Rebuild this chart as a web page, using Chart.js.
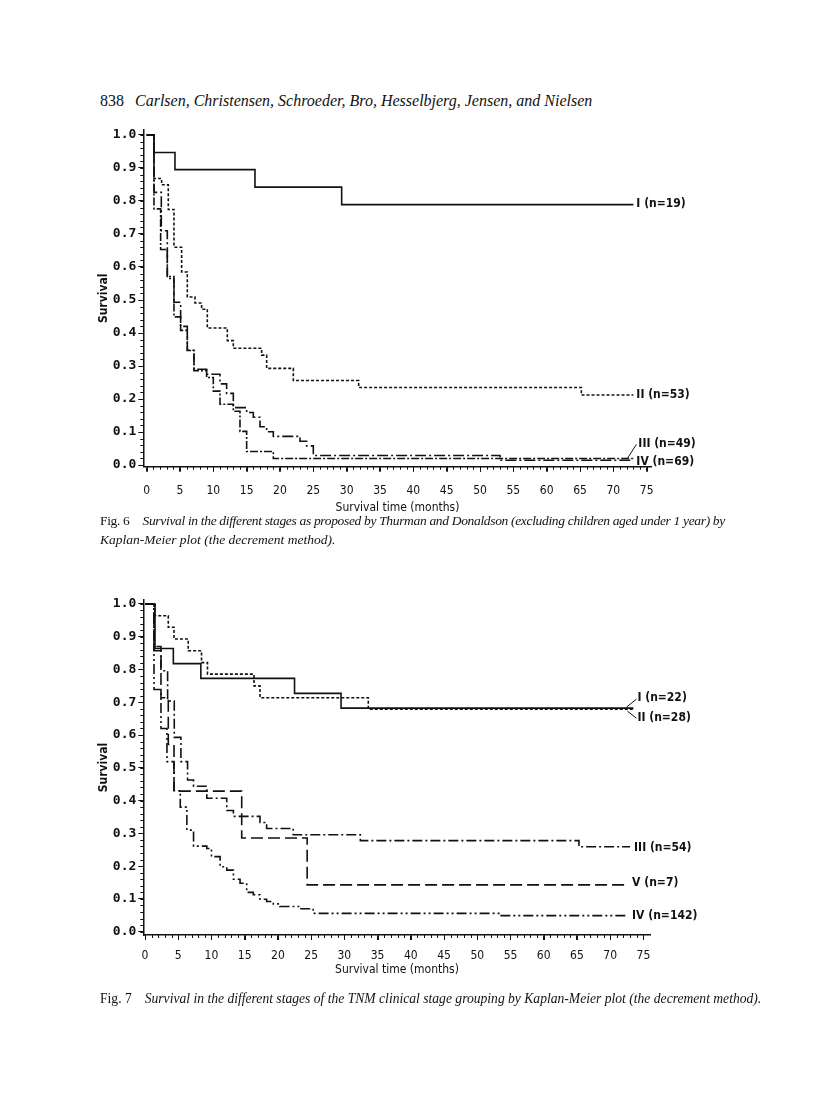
<!DOCTYPE html>
<html>
<head>
<meta charset="utf-8">
<script src="https://cdn.jsdelivr.net/npm/chart.js@4.4.0/dist/chart.umd.min.js"></script>
<style>
  html, body { margin: 0; padding: 0; background: #fff; }
  body { width: 816px; height: 1114px; position: relative; overflow: hidden; }
  .abs { position: absolute; white-space: nowrap; color: #111; font-family: 'Liberation Serif', 'Times New Roman', serif; }
  .hdr { left: 100px; top: 92px; font-size: 16px; }
  .hdr i { margin-left: 11px; }
  .cap { left: 100px; font-size: 13.5px; }
  .cap i { margin-left: 13px; }
  canvas { position: absolute; left: 0; }
</style>
</head>
<body>
<div class="abs hdr">838<i>Carlsen, Christensen, Schroeder, Bro, Hesselbjerg, Jensen, and Nielsen</i></div>
<div style="position:absolute;left:0;top:115px;width:816px;height:410px;"><canvas id="fig6"></canvas></div>
<div class="abs cap" style="top:513px;letter-spacing:-0.33px;">Fig. 6<i>Survival in the different stages as proposed by Thurman and Donaldson (excluding children aged under 1 year) by</i></div>
<div class="abs cap" style="top:532px;"><i style="margin-left:0">Kaplan-Meier plot (the decrement method).</i></div>
<div style="position:absolute;left:0;top:585px;width:816px;height:410px;"><canvas id="fig7"></canvas></div>
<div class="abs cap" style="top:991px;font-size:13.6px;">Fig. 7<i>Survival in the different stages of the TNM clinical stage grouping by Kaplan-Meier plot (the decrement method).</i></div>

<script>
// ---------- DATA ----------
const xTickValues = [0, 5, 10, 15, 20, 25, 30, 35, 40, 45, 50, 55, 60, 65, 70, 75];
const yTickValues = [0, 0.1, 0.2, 0.3, 0.4, 0.5, 0.6, 0.7, 0.8, 0.9, 1.0];
const xTitle = 'Survival time (months)';
const yTitle = 'Survival';

// Fig. 6 (Thurman & Donaldson stages)
const fig6_I_time   = [0, 1.1, 4.25, 16.25, 29.25, 73];
const fig6_I_surv   = [1, 0.947, 0.895, 0.842, 0.789, 0.789];
const fig6_II_time  = [0, 1.1, 2.25, 3.25, 4.1, 5.25, 6.1, 7.25, 8.25, 9.1, 12.1, 13.0, 17.25, 18.0, 22.0, 31.8, 65.2, 73];
const fig6_II_surv  = [1, 0.868, 0.849, 0.774, 0.660, 0.585, 0.509, 0.491, 0.472, 0.415, 0.377, 0.354, 0.333, 0.293, 0.256, 0.235, 0.212, 0.212];
const fig6_III_time = [0, 1.1, 2.1, 3.1, 4.1, 5.1, 6.1, 7.1, 9.0, 10.0, 11.0, 13.0, 14.0, 15.0, 19.0, 73];
const fig6_III_surv = [1, 0.776, 0.653, 0.571, 0.449, 0.408, 0.347, 0.286, 0.265, 0.224, 0.184, 0.163, 0.102, 0.041, 0.020, 0.020];
const fig6_IV_time  = [0, 1.1, 2.2, 3.1, 4.1, 5.1, 6.1, 7.1, 9.0, 11.0, 12.0, 13.0, 15.0, 16.0, 17.0, 18.0, 19.0, 23.0, 24.0, 25.0, 53.0, 73];
const fig6_IV_surv  = [1, 0.826, 0.710, 0.565, 0.493, 0.420, 0.348, 0.290, 0.275, 0.246, 0.217, 0.174, 0.159, 0.145, 0.116, 0.101, 0.087, 0.072, 0.058, 0.029, 0.0145, 0.0145];
const fig6_labels   = ['I (n=19)', 'II (n=53)', 'III (n=49)', 'IV (n=69)'];

// Fig. 7 (TNM clinical stage grouping)
const fig7_I_time   = [0, 1.5, 4.26, 8.4, 22.5, 29.5, 73.5];
const fig7_I_surv   = [1, 0.864, 0.818, 0.773, 0.727, 0.682, 0.682];
const fig7_II_time  = [0, 1.5, 3.5, 4.36, 6.5, 8.5, 9.4, 16.4, 17.3, 33.6, 73.5];
const fig7_II_surv  = [1, 0.964, 0.929, 0.893, 0.857, 0.821, 0.786, 0.750, 0.714, 0.679, 0.679];
const fig7_III_time = [0, 1.35, 2.4, 3.4, 4.4, 5.4, 6.4, 7.3, 9.3, 12.3, 13.3, 17.3, 18.3, 22.3, 32.4, 65.3, 73];
const fig7_III_surv = [1, 0.870, 0.796, 0.704, 0.593, 0.519, 0.463, 0.444, 0.407, 0.370, 0.352, 0.333, 0.315, 0.296, 0.278, 0.259, 0.259];
const fig7_IV_time  = [0, 1.35, 2.4, 3.3, 4.36, 5.3, 6.3, 7.3, 9.3, 10.0, 11.3, 12.3, 13.3, 14.3, 15.3, 16.3, 17.3, 18.3, 19.3, 20.3, 23.3, 25.3, 53.4, 72.7];
const fig7_IV_surv  = [1, 0.739, 0.620, 0.519, 0.430, 0.380, 0.310, 0.261, 0.254, 0.229, 0.198, 0.188, 0.160, 0.148, 0.120, 0.113, 0.099, 0.092, 0.085, 0.077, 0.070, 0.056, 0.049, 0.049];
const fig7_V_time   = [0, 1.35, 2.4, 3.5, 4.36, 14.55, 24.4, 72.7];
const fig7_V_surv   = [1, 0.857, 0.714, 0.571, 0.429, 0.286, 0.143, 0.143];
const fig7_labels   = ['I (n=22)', 'II (n=28)', 'III (n=54)', 'V (n=7)', 'IV (n=142)'];

// ---------- HELPERS ----------
const pts = (t, s) => t.map((x, i) => ({ x: x, y: s[i] }));
const INK = '#111';
const LABEL_FONT = "bold 12px 'DejaVu Sans Condensed', 'DejaVu Sans', sans-serif";

function ds(t, s, dash) {
  return { data: pts(t, s), stepped: 'before', borderColor: INK, borderWidth: 1.6,
           borderDash: dash, pointRadius: 0, fill: false, tension: 0 };
}

// end-of-line labels; offsets are pure styling
const endLabelPlugin = {
  id: 'endLabels',
  afterDatasetsDraw(chart, args, opts) {
    const { ctx, scales: { x, y } } = chart;
    ctx.save();
    ctx.font = LABEL_FONT;
    ctx.fillStyle = INK;
    ctx.strokeStyle = INK;
    ctx.lineWidth = 1;
    ctx.textBaseline = 'middle';
    ctx.textAlign = 'left';
    (opts.items || []).forEach(it => {
      const d = chart.data.datasets[it.ds].data;
      const last = d[d.length - 1];
      const px = x.getPixelForValue(last.x), py = y.getPixelForValue(last.y);
      if (it.leader) {
        ctx.beginPath();
        ctx.moveTo(px + it.leader[0], py + it.leader[1]);
        ctx.lineTo(px + it.leader[2], py + it.leader[3]);
        ctx.stroke();
      }
      ctx.fillText(it.text, px + it.dx, py + it.dy);
    });
    ctx.restore();
  }
};

// minor tick marks drawn through the scales
const minorTickPlugin = {
  id: 'minorTicks',
  afterDraw(chart) {
    const { ctx, scales: { x, y }, chartArea } = chart;
    ctx.save();
    ctx.strokeStyle = INK;
    ctx.lineWidth = 1;
    ctx.beginPath();
    for (let m = 0; m <= 75; m++) {
      const px = Math.round(x.getPixelForValue(m)) + 0.5;
      const len = (m % 5 === 0) ? 5 : 3;
      ctx.moveTo(px, chartArea.bottom);
      ctx.lineTo(px, chartArea.bottom + len);
    }
    for (let k = 0; k <= 50; k++) {
      const py = Math.round(y.getPixelForValue(k * 0.02)) + 0.5;
      ctx.moveTo(chartArea.left - 3, py);
      ctx.lineTo(chartArea.left, py);
    }
    ctx.stroke();
    ctx.restore();
  }
};

function makeChart(id, datasets, cfg, labelItems) {
  return new Chart(document.getElementById(id), {
    type: 'line',
    data: { datasets },
    plugins: [minorTickPlugin, endLabelPlugin],
    options: {
      responsive: true,
      maintainAspectRatio: false,
      animation: false,
      events: [],
      layout: { padding: { left: 92, right: cfg.padRight, top: 15, bottom: cfg.padBottom } },
      plugins: { legend: { display: false }, tooltip: { enabled: false },
                 endLabels: { items: labelItems } },
      scales: {
        x: {
          type: 'linear', min: cfg.xmin, max: cfg.xmax,
          afterBuildTicks: s => { s.ticks = xTickValues.map(v => ({ value: v })); },
          afterFit: s => { s.height = cfg.xHeight; },
          ticks: { color: INK, padding: cfg.xTickPad, maxRotation: 0, autoSkip: false,
                   font: { family: "'DejaVu Sans Condensed', 'DejaVu Sans', sans-serif", size: 12 } },
          grid: { drawOnChartArea: false, drawTicks: true, tickLength: 5, color: INK, lineWidth: 1 },
          border: { color: INK, width: 1.5 },
          title: { display: true, text: xTitle, color: INK, padding: { top: 0, bottom: cfg.xTitlePad },
                   font: { family: "'DejaVu Sans Condensed', 'DejaVu Sans', sans-serif", size: 12 } }
        },
        y: {
          type: 'linear', min: cfg.ymin, max: cfg.ymax,
          afterBuildTicks: s => { s.ticks = yTickValues.map(v => ({ value: v })); },
          afterFit: s => { s.width = 143.3 - 92; },
          ticks: { color: INK, padding: 2, callback: v => Number(v).toFixed(1),
                   font: { family: "'DejaVu Sans Mono', monospace", size: 13, weight: 'bold' } },
          grid: { drawOnChartArea: false, drawTicks: true, tickLength: 5, color: INK, lineWidth: 1 },
          border: { color: INK, width: 1.5 },
          title: { display: true, text: yTitle, color: INK, padding: { top: 5, bottom: 0 },
                   font: { family: "'DejaVu Sans Condensed', 'DejaVu Sans', sans-serif", size: 12, weight: 'bold' } }
        }
      }
    }
  });
}

makeChart('fig6', [
  ds(fig6_I_time, fig6_I_surv, []),
  ds(fig6_II_time, fig6_II_surv, [3, 2]),
  ds(fig6_III_time, fig6_III_surv, [8, 2, 2, 2]),
  ds(fig6_IV_time, fig6_IV_surv, [11, 3, 2, 3])
], { xmin: -0.5, xmax: 75.75, ymin: -0.005, ymax: 1.015, padRight: 164.3, padBottom: 8.3,
     xHeight: 50, xTickPad: 12, xTitlePad: 1.5 },
[
  { ds: 0, text: fig6_labels[0], dx: 3, dy: -1 },
  { ds: 1, text: fig6_labels[1], dx: 3, dy: 0 },
  { ds: 2, text: fig6_labels[2], dx: 5, dy: -15, leader: [-6, 0, 3, -14] },
  { ds: 3, text: fig6_labels[3], dx: 3, dy: 2 }
]);

makeChart('fig7', [
  ds(fig7_I_time, fig7_I_surv, []),
  ds(fig7_II_time, fig7_II_surv, [3, 2]),
  ds(fig7_III_time, fig7_III_surv, [10, 3, 2, 3]),
  ds(fig7_IV_time, fig7_IV_surv, [10, 3, 2, 3, 2, 3]),
  ds(fig7_V_time, fig7_V_surv, [12, 5])
], { xmin: -0.26, xmax: 76.1, ymin: -0.010, ymax: 1.012, padRight: 165.3, padBottom: 15,
     xHeight: 45, xTickPad: 9, xTitlePad: 2.8 },
[
  { ds: 0, text: fig7_labels[0], dx: 4, dy: -10, leader: [-7, -1, 3, -9] },
  { ds: 1, text: fig7_labels[1], dx: 4, dy: 9, leader: [-6, 2, 3, 9] },
  { ds: 2, text: fig7_labels[2], dx: 4, dy: 1 },
  { ds: 4, text: fig7_labels[3], dx: 4, dy: -2 },
  { ds: 3, text: fig7_labels[4], dx: 4, dy: 0 }
]);
</script>
</body>
</html>
